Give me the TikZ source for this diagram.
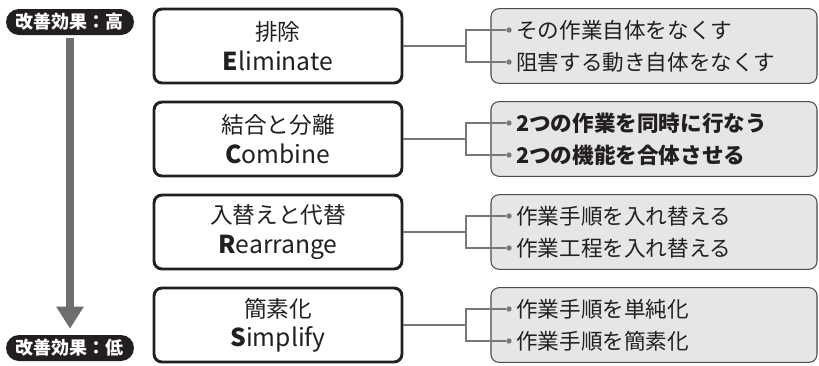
\documentclass[tikz,border=0pt]{standalone}
\usepackage{fontspec}
\setmainfont{Noto Sans CJK JP}
\usetikzlibrary{arrows.meta,positioning}
\definecolor{boxgray}{HTML}{E6E6E7}
\definecolor{linegray}{HTML}{777777}
\definecolor{arrowgray}{HTML}{6E6E6E}
\definecolor{ink}{HTML}{231F20}

\begin{document}
\begin{tikzpicture}[x=0.75pt,y=-0.75pt,
    level/.style={fill=ink,text=white,rounded corners=9.75pt,minimum width=96pt,
      minimum height=19.5pt,inner sep=0pt,font=\fontsize{13.5}{15}\selectfont\bfseries},
    stage/.style={draw=ink,line width=2.2pt,rounded corners=6pt,minimum width=186pt,
      minimum height=55.5pt,align=center,text=ink,inner sep=0pt,
      font=\fontsize{17}{22}\selectfont},
    panel/.style={draw=black!70,fill=boxgray,line width=0.8pt,rounded corners=6pt,
      minimum width=244.5pt,minimum height=56pt,inner sep=0pt},
    dot/.style={circle,fill=linegray,inner sep=0pt,minimum size=4pt},
    item/.style={anchor=west,inner sep=0pt,text=ink,font=\fontsize{16.2}{18}\selectfont},
    link/.style={draw=linegray,line width=1.3pt},
    flow/.style={draw=arrowgray,line width=6pt,-{Triangle[width=19.5pt,length=16.5pt]}}]
    \useasboundingbox (0,0) rectangle (819,365);

    % effect scale
    \node[level] (hi) at (70,22) {改善効果：高};
    \node[level] (lo) at (70,348) {改善効果：低};
    \draw[flow,shorten <=2.25pt,shorten >=4.5pt] (hi.south) -- (lo.north);

    % Eliminate
    \node[stage] (s1) at (278,46) {排除\\
      \fontsize{18.5}{22}\selectfont\textbf{E}liminate};
    \node[panel] (r1) at (654,46) {};
    \node[dot] (d1a) at (509,30) {};
    \node[dot] (d1b) at (509,62) {};
    \coordinate (j1) at (466,46);
    \draw[link] (s1.east) -- (j1);
    \draw[link] (d1a) -| (j1) |- (d1b);
    \node[item,right=3pt of d1a] (t1a) {その作業自体をなくす};
    \node[item,right=3pt of d1b] (t1b) {阻害する動き自体をなくす};

    % Combine
    \node[stage] (s2) at (278,139) {結合と分離\\
      \fontsize{18.5}{22}\selectfont\textbf{C}ombine};
    \node[panel] (r2) at (654,139) {};
    \node[dot] (d2a) at (509,123) {};
    \node[dot] (d2b) at (509,155) {};
    \coordinate (j2) at (466,139);
    \draw[link] (s2.east) -- (j2);
    \draw[link] (d2a) -| (j2) |- (d2b);
    \node[item,right=3pt of d2a,font=\fontsize{16.2}{18}\selectfont\bfseries] (t2a) {2つの作業を同時に行なう};
    \node[item,right=3pt of d2b,font=\fontsize{16.2}{18}\selectfont\bfseries] (t2b) {2つの機能を合体させる};

    % Rearrange
    \node[stage] (s3) at (278,232) {入替えと代替\\
      \fontsize{18.5}{22}\selectfont\textbf{R}earrange};
    \node[panel] (r3) at (654,232) {};
    \node[dot] (d3a) at (509,216) {};
    \node[dot] (d3b) at (509,248) {};
    \coordinate (j3) at (466,232);
    \draw[link] (s3.east) -- (j3);
    \draw[link] (d3a) -| (j3) |- (d3b);
    \node[item,right=3pt of d3a] (t3a) {作業手順を入れ替える};
    \node[item,right=3pt of d3b] (t3b) {作業工程を入れ替える};

    % Simplify
    \node[stage] (s4) at (278,325) {簡素化\\
      \fontsize{18.5}{22}\selectfont\textbf{S}implify};
    \node[panel] (r4) at (654,325) {};
    \node[dot] (d4a) at (509,309) {};
    \node[dot] (d4b) at (509,341) {};
    \coordinate (j4) at (466,325);
    \draw[link] (s4.east) -- (j4);
    \draw[link] (d4a) -| (j4) |- (d4b);
    \node[item,right=3pt of d4a] (t4a) {作業手順を単純化};
    \node[item,right=3pt of d4b] (t4b) {作業手順を簡素化};
\end{tikzpicture}
\end{document}
